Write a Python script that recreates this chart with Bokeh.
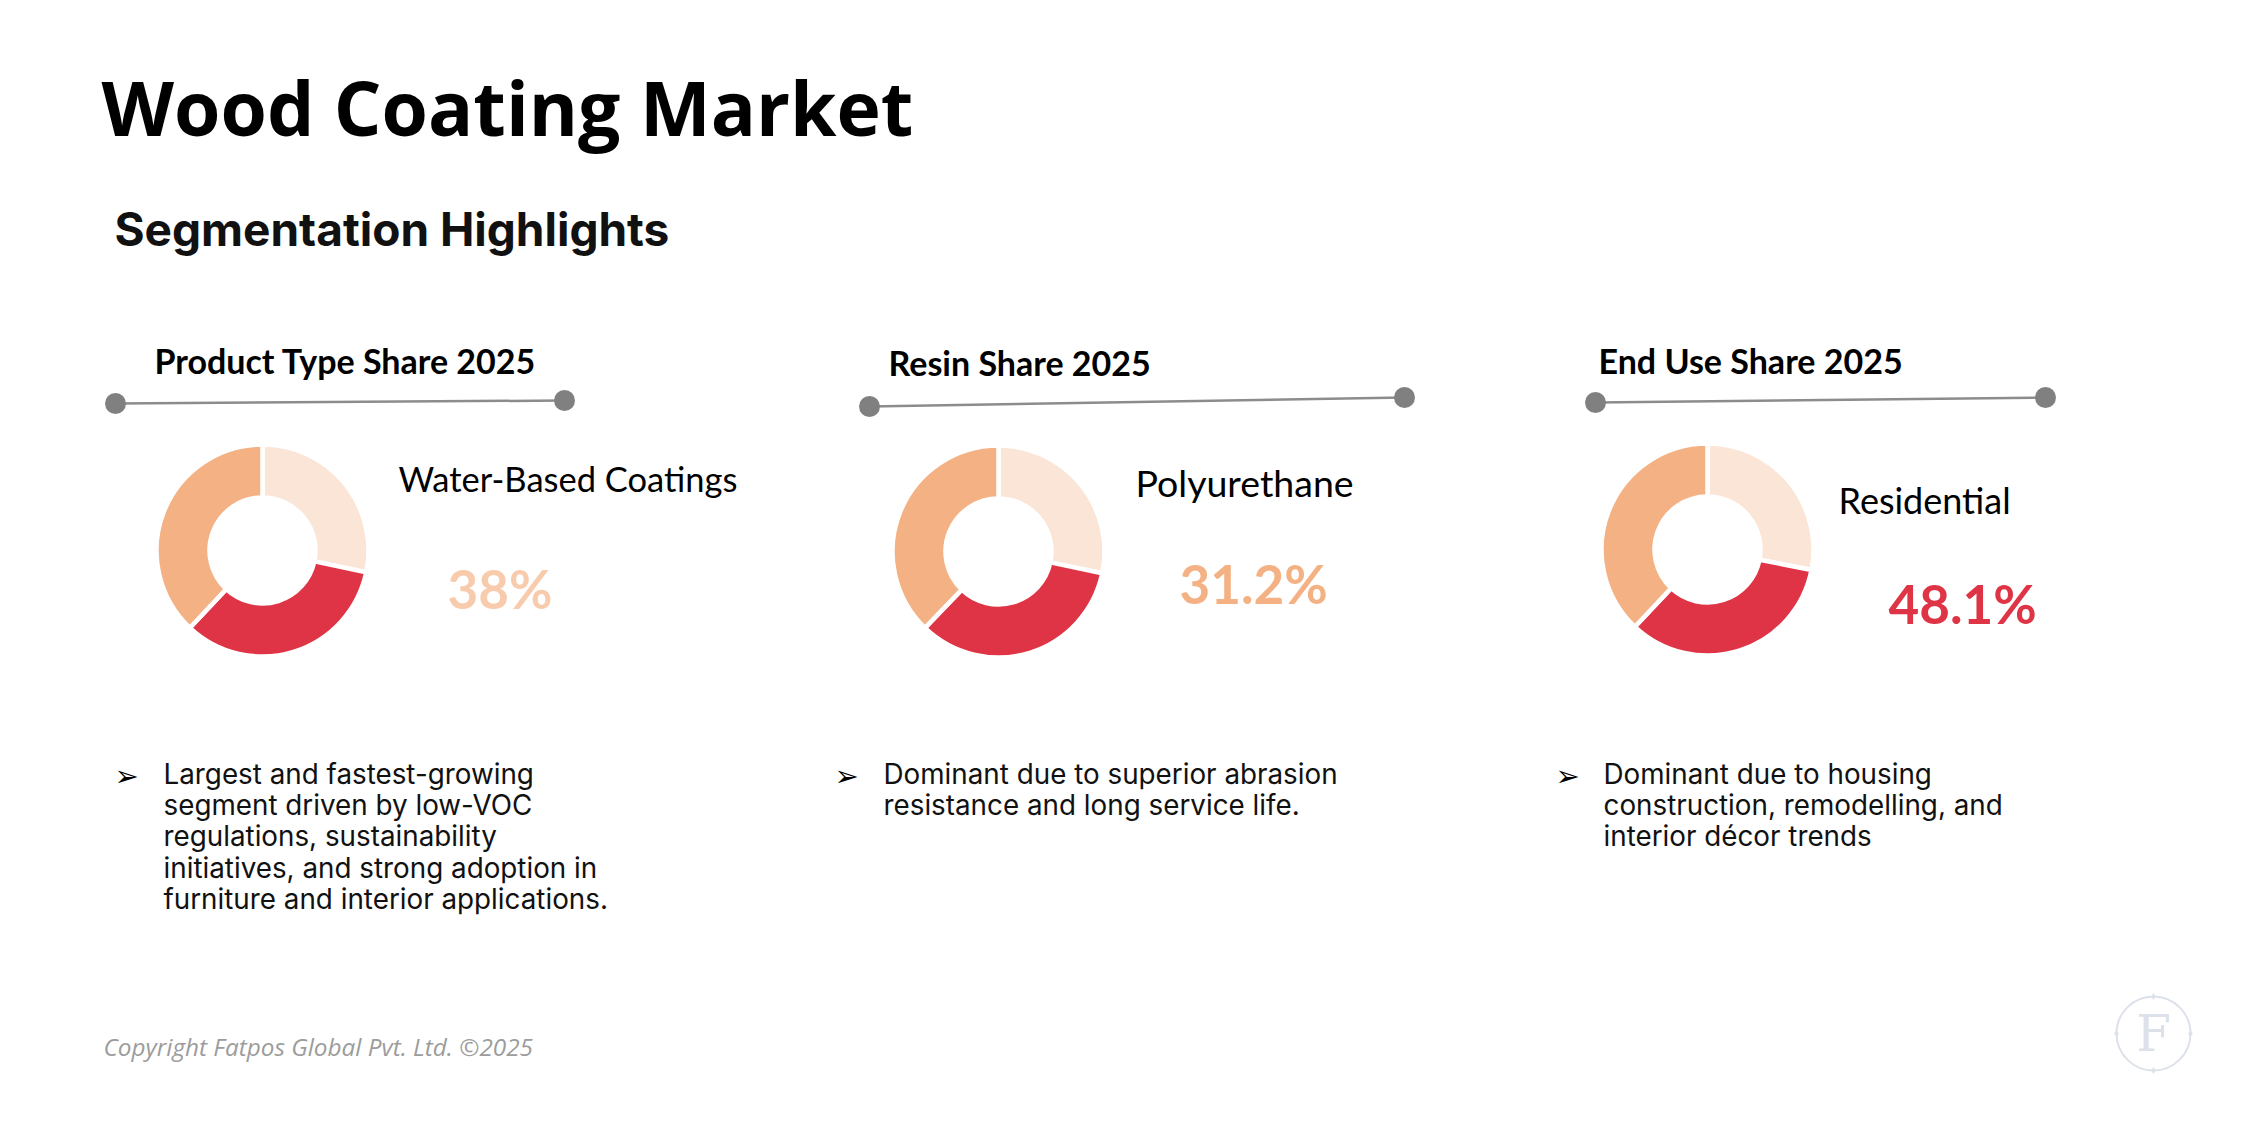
import math

from bokeh.core.properties import value
from bokeh.embed import file_html
from bokeh.models import ColumnDataSource, Range1d
from bokeh.plotting import figure
from bokeh.resources import INLINE

# ---------------------------------------------------------------- data
title = "Wood Coating Market"
subtitle = "Segmentation Highlights"
copyright_text = "Copyright Fatpos Global Pvt. Ltd. \u00a92025"

panel_titles = ["Product Type Share 2025", "Resin Share 2025", "End Use Share 2025"]
leading_segments = ["Water-Based Coatings", "Polyurethane", "Residential"]
leading_shares = ["38%", "31.2%", "48.1%"]

# ring slices, clockwise from 12 o'clock (percent of the ring)
ring_parts = ["Other", "Second", "Leading"]
ring_shares_product = [28.3, 33.7, 38.0]
ring_shares_resin = [28.3, 33.9, 37.8]
ring_shares_enduse = [28.1, 33.9, 38.0]

notes_product = [
    "Largest and fastest-growing",
    "segment driven by low-VOC",
    "regulations, sustainability",
    "initiatives, and strong adoption in",
    "furniture and interior applications.",
]
notes_resin = [
    "Dominant due to superior abrasion",
    "resistance and long service life.",
]
notes_enduse = [
    "Dominant due to housing",
    "construction, remodelling, and",
    "interior d\u00e9cor trends",
]

# ---------------------------------------------------------------- styling / layout
W, H = 2249, 1126
RING_COLORS = ["#FBE5D6", "#DF3445", "#F4B183"]
SHARE_COLORS = ["#F8CBAD", "#F4B183", "#DF3445"]

panel_title_pos = [(154, 360), (888, 362), (1598, 360)]
rule_pos = [((115, 403), (564, 400)), ((869, 406), (1404, 397)), ((1595, 402), (2045, 397))]
ring_centers = [(262, 550), (998, 551), (1707, 549)]
ring_outer, ring_inner = 106, 53
name_pos = [(398, 478), (1135, 482), (1838, 499)]
name_sizes = ["34.5px", "37.5px", "36px"]
share_pos = [(447, 588), (1179, 583), (1888, 603)]
arrow_x = [114, 834, 1555]
note_x = [163, 883, 1603]
note_top, note_step = 773, 31.4


def Y(px):
    """Screen row (from the top) to plot coordinate."""
    return H - px


p = figure(
    width=W, height=H,
    x_range=Range1d(0, W), y_range=Range1d(0, H),
    x_axis_type=None, y_axis_type=None,
    output_backend="svg", toolbar_location=None,
    min_border=0, outline_line_color=None,
    background_fill_color="white", border_fill_color="white",
)
p.grid.visible = False

# headline texts
p.text(x=[101], y=[Y(106)], text=[title], text_font=value("Open Sans"),
       text_font_style="bold", text_font_size="75px", text_color="#000000",
       text_baseline="alphabetic")
p.text(x=[114], y=[Y(228)], text=[subtitle], text_font=value("Inter"),
       text_font_style="bold", text_font_size="46px", text_color="#111111",
       text_baseline="alphabetic")

ring_sets = [ring_shares_product, ring_shares_resin, ring_shares_enduse]
note_sets = [notes_product, notes_resin, notes_enduse]

for i in range(3):
    # panel heading
    tx, ty = panel_title_pos[i]
    p.text(x=[tx], y=[Y(ty)], text=[panel_titles[i]], text_font=value("Lato"),
           text_font_style="bold", text_font_size="34px", text_color="#000000",
           text_baseline="alphabetic")

    # rule with end dots
    (x0, y0), (x1, y1) = rule_pos[i]
    p.segment(x0=[x0], y0=[Y(y0)], x1=[x1], y1=[Y(y1)], line_color="#8C8C8C", line_width=2.5)
    p.scatter(x=[x0, x1], y=[Y(y0), Y(y1)], size=21, marker="circle",
              fill_color="#808080", line_color=None)

    # donut ring
    shares = ring_sets[i]
    total = float(sum(shares))
    cum = [0.0]
    for s in shares:
        cum.append(cum[-1] + s / total)
    starts = [math.pi / 2 - 2 * math.pi * c for c in cum[:-1]]
    ends = [math.pi / 2 - 2 * math.pi * c for c in cum[1:]]
    cx, cy = ring_centers[i]
    src = ColumnDataSource(dict(part=ring_parts, share=shares, start=starts, end=ends,
                                color=RING_COLORS))
    p.annular_wedge(x=cx, y=Y(cy), inner_radius=ring_inner, outer_radius=ring_outer,
                    start_angle="start", end_angle="end", direction="clock",
                    fill_color="color", line_color="white", line_width=4.5, source=src)

    # leading segment name and share
    nx, ny = name_pos[i]
    p.text(x=[nx], y=[Y(ny)], text=[leading_segments[i]], text_font=value("Lato"),
           text_font_size=name_sizes[i], text_color="#000000", text_baseline="alphabetic")
    sx, sy = share_pos[i]
    p.text(x=[sx], y=[Y(sy)], text=[leading_shares[i]], text_font=value("Lato"),
           text_font_style="bold", text_font_size="53px", text_color=SHARE_COLORS[i],
           text_baseline="alphabetic")

    # bullet note
    lines = note_sets[i]
    ys = [Y(note_top + k * note_step) for k in range(len(lines))]
    p.text(x=[arrow_x[i]], y=[ys[0] - 2], text=["\u27a2"], text_font=value("DejaVu Sans"),
           text_font_style="bold", text_font_size="29px", text_color="#000000",
           text_baseline="alphabetic")
    p.text(x=[note_x[i]] * len(lines), y=ys, text=lines, text_font=value("Inter"),
           text_font_size="27.8px", text_color="#111111", text_baseline="alphabetic")

# footer
p.text(x=[103], y=[Y(1046)], text=[copyright_text], text_font=value("Open Sans"),
       text_font_style="italic", text_font_size="24.3px", text_color="#9C9C9C",
       text_baseline="alphabetic")

# faint round monogram in the corner
mx, my, mr = 2153, 1033, 37
p.circle(x=[mx], y=[Y(my)], radius=mr, fill_color=None, line_color="#DDE2EA", line_width=2)
p.scatter(x=[mx, mx + mr, mx, mx - mr], y=[Y(my - mr), Y(my), Y(my + mr), Y(my)],
          marker="diamond", size=7, fill_color="#DDE2EA", line_color=None)
p.text(x=[mx], y=[Y(my)], text=["F"], text_font=value("DejaVu Serif"),
       text_font_size="50px", text_color="#DCE1EA", text_align="center",
       text_baseline="middle")

open("out.html", "w").write(file_html(p, INLINE))
